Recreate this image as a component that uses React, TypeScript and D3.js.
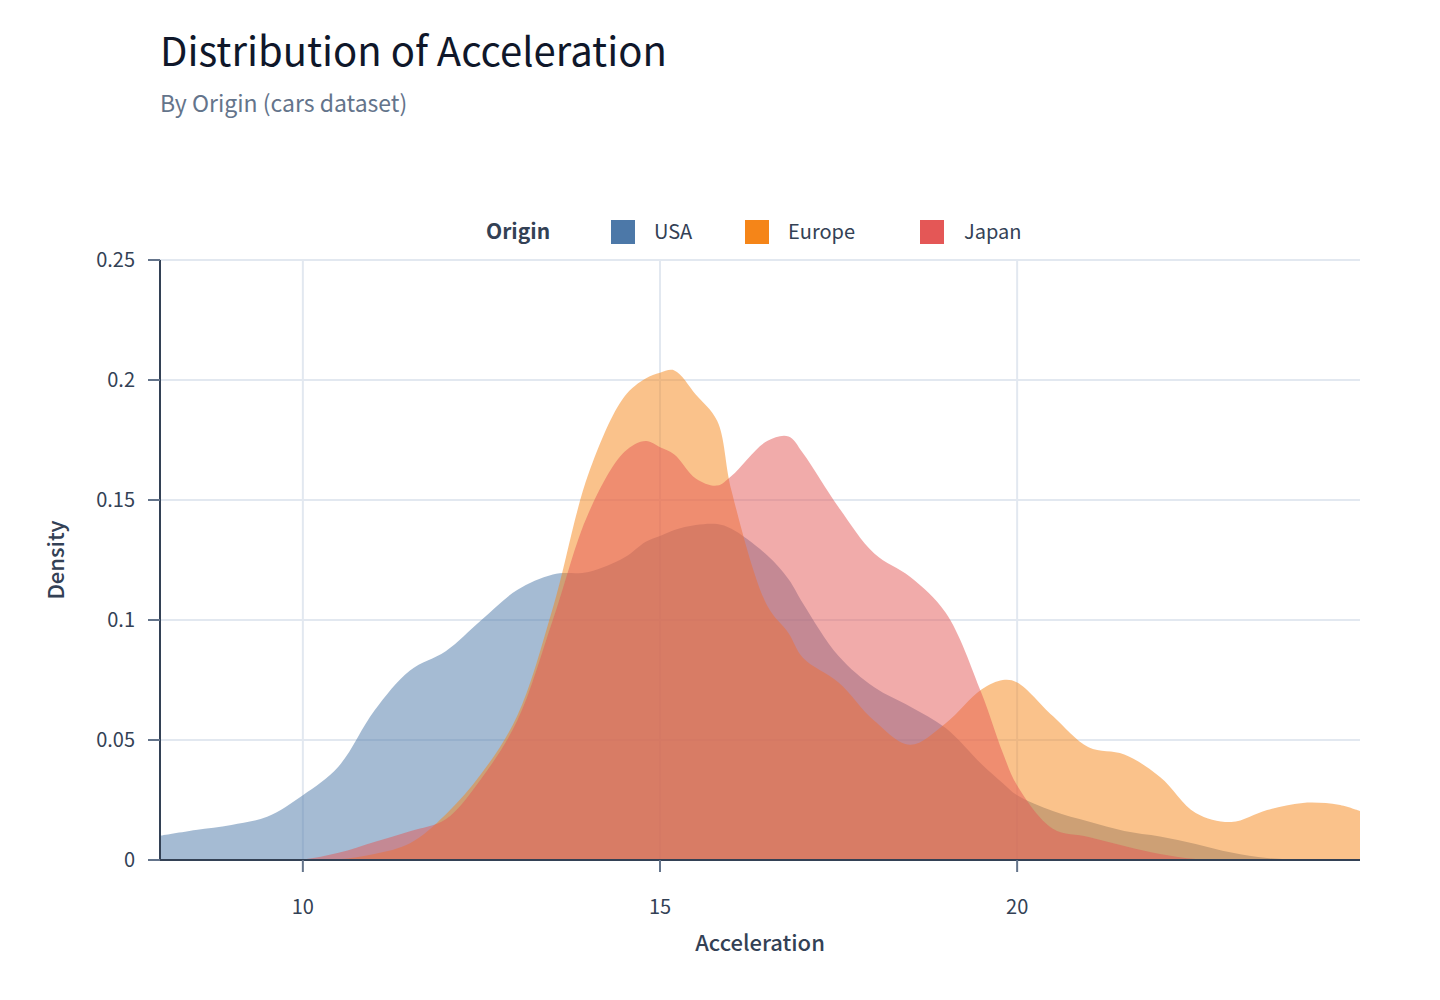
import React from 'react';
import * as d3 from 'd3';

const accel = [8, 8.5, 9, 9.5, 10, 10.5, 11, 11.5, 12, 12.5, 13, 13.5, 14, 14.5, 14.8, 15, 15.2, 15.5, 15.8, 16, 16.5, 16.8, 17, 17.5, 18, 18.5, 19, 19.5, 19.8, 20, 20.5, 21, 21.5, 22, 22.5, 23, 23.5, 24, 24.5, 24.8];

const usa = [0.0101, 0.0125, 0.0146, 0.018, 0.027, 0.039, 0.0622, 0.079, 0.087, 0.1, 0.1125, 0.119, 0.12, 0.126, 0.1326, 0.135, 0.1375, 0.1396, 0.14, 0.138, 0.127, 0.117, 0.107, 0.085, 0.072, 0.064, 0.055, 0.04, 0.032, 0.027, 0.0204, 0.016, 0.0121, 0.0098, 0.0067, 0.0031, 0.0008, 0.0001, 0, 0];
const europe = [0, 0, 0, 0, 0, 0.0003, 0.0025, 0.007, 0.019, 0.036, 0.06, 0.105, 0.161, 0.193, 0.2006, 0.203, 0.204, 0.194, 0.183, 0.154, 0.106, 0.0945, 0.0843, 0.074, 0.058, 0.048, 0.057, 0.071, 0.075, 0.074, 0.06, 0.047, 0.044, 0.0346, 0.0196, 0.0158, 0.0208, 0.0238, 0.023, 0.0204];
const japan = [0, 0, 0, 0, 0.0002, 0.003, 0.0075, 0.012, 0.017, 0.034, 0.058, 0.1, 0.1446, 0.17, 0.1746, 0.172, 0.169, 0.159, 0.156, 0.16, 0.1746, 0.1765, 0.1696, 0.147, 0.1277, 0.118, 0.103, 0.0696, 0.0446, 0.031, 0.013, 0.0096, 0.0058, 0.0025, 0.0004, 0, 0, 0, 0, 0];

const origins = ['USA', 'Europe', 'Japan'];
const colors = ['#4c78a8', '#f58518', '#e45756'];
const seriesValues = [usa, europe, japan];

const yTicks = [0, 0.05, 0.1, 0.15, 0.2, 0.25];
const xTicks = [10, 15, 20];

const FONT = '"Noto Sans CJK KR", "Noto Sans", sans-serif';

export default function App() {
  const width = 1440;
  const height = 1000;
  const margin = { top: 260, right: 80, bottom: 140, left: 160 };
  const innerW = width - margin.left - margin.right;
  const innerH = height - margin.top - margin.bottom;

  const x = d3.scaleLinear().domain([8, 24.8]).range([0, innerW]);
  const y = d3.scaleLinear().domain([0, 0.25]).range([innerH, 0]);

  const area = d3
    .area<number>()
    .x((_, i) => x(accel[i]))
    .y0(y(0))
    .y1((d) => Math.min(y(d), innerH))
    .curve(d3.curveCatmullRom.alpha(0.5));

  const legendItems = [
    { x: 611, tx: 654 },
    { x: 745, tx: 788 },
    { x: 920, tx: 964 },
  ];

  return (
    <svg width={width} height={height} style={{ position: 'absolute', left: 0, top: 0, fontFamily: FONT }}>
      <defs>
        <clipPath id="plot-clip">
          <rect x={0} y={0} width={innerW} height={innerH} />
        </clipPath>
      </defs>
      <text x={160} y={66} fontSize={40} fontWeight={400} fill="#0f172a">
        Distribution of Acceleration
      </text>
      <text x={160} y={112} fontSize={23} fill="#64748b">
        By Origin (cars dataset)
      </text>

      {/* legend */}
      <text x={486} y={239} fontSize={21} fontWeight={700} fill="#334155">
        Origin
      </text>
      {origins.map((o, i) => (
        <g key={o}>
          <rect x={legendItems[i].x} y={220} width={24} height={24} fill={colors[i]} />
          <text x={legendItems[i].tx} y={239} fontSize={20} fill="#334155">
            {o}
          </text>
        </g>
      ))}

      <g transform={`translate(${margin.left},${margin.top})`}>
        {yTicks.map((t) => (
          <line key={'gy' + t} x1={0} x2={innerW} y1={y(t)} y2={y(t)} stroke="#e2e8f0" strokeWidth={2} />
        ))}
        {xTicks.map((t) => (
          <line key={'gx' + t} x1={x(t)} x2={x(t)} y1={0} y2={innerH} stroke="#e2e8f0" strokeWidth={2} />
        ))}

        <g clipPath="url(#plot-clip)">
          {seriesValues.map((vals, i) => (
            <path key={origins[i]} d={area(vals) || ''} fill={colors[i]} fillOpacity={0.5} />
          ))}
        </g>

        {/* y axis */}
        <line x1={0} x2={0} y1={0} y2={innerH} stroke="#334155" strokeWidth={2} />
        {yTicks.map((t) => (
          <g key={'ty' + t} transform={`translate(0,${y(t)})`}>
            <line x1={-12} x2={0} stroke="#64748b" strokeWidth={2} />
            <text x={-25} dy="0.35em" textAnchor="end" fontSize={20} fill="#334155">
              {d3.format('~g')(t)}
            </text>
          </g>
        ))}

        {/* x axis */}
        <line x1={0} x2={innerW} y1={innerH} y2={innerH} stroke="#334155" strokeWidth={2} />
        {xTicks.map((t) => (
          <g key={'tx' + t} transform={`translate(${x(t)},${innerH})`}>
            <line y1={0} y2={12} stroke="#64748b" strokeWidth={2} />
            <text y={54} textAnchor="middle" fontSize={20} fill="#334155">
              {t}
            </text>
          </g>
        ))}

        <text x={innerW / 2} y={innerH + 91} textAnchor="middle" fontSize={22} fontWeight={500} fill="#334155">
          Acceleration
        </text>
        <text
          transform={`translate(${-96},${innerH / 2}) rotate(-90)`}
          textAnchor="middle"
          fontSize={22}
          fontWeight={500}
          fill="#334155"
        >
          Density
        </text>
      </g>
    </svg>
  );
}
